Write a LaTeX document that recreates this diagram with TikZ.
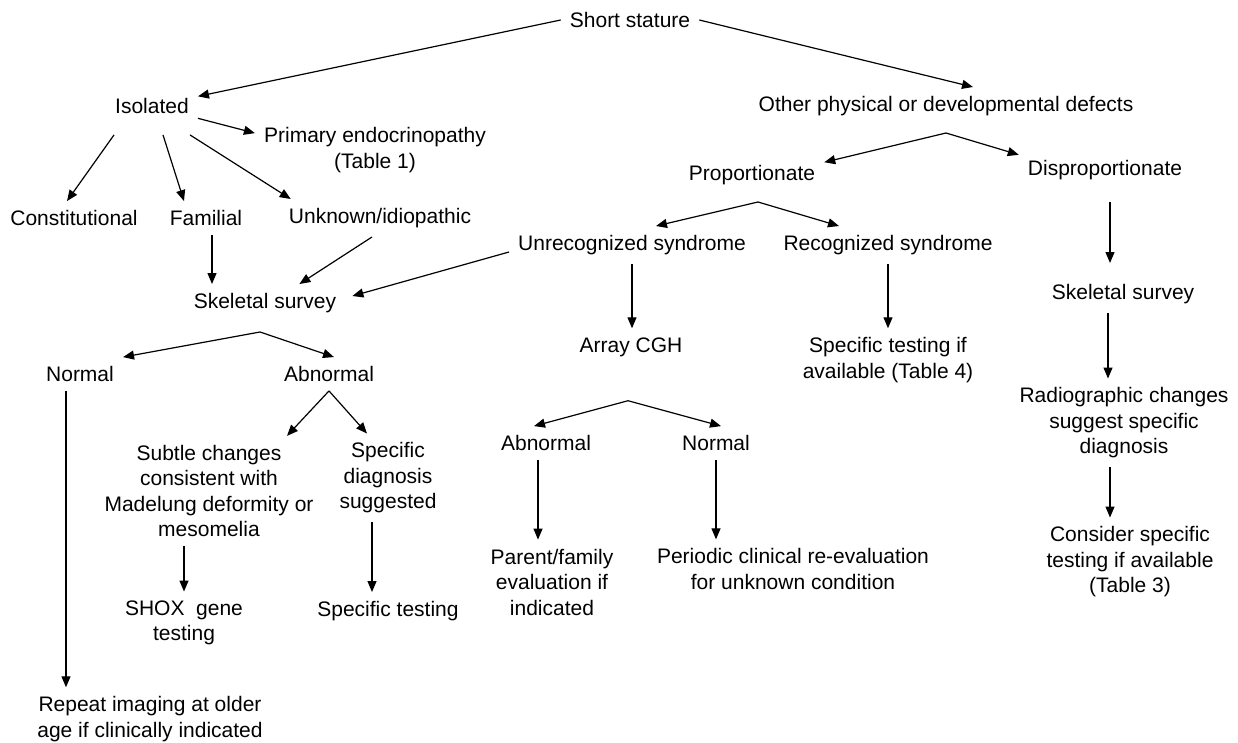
\documentclass[tikz,border=0pt]{standalone}
\usepackage{fontspec}
\setmainfont{Liberation Sans}
\usepackage{tikz}
\usetikzlibrary{arrows.meta}

\begin{document}
\begin{tikzpicture}[x=1pt,y=-1pt,
	box/.style={align=center, inner sep=9pt, font=\fontsize{21}{25.5}\selectfont},
	arr/.style={draw, line width=1.2pt, -{Triangle[length=11pt,width=9pt]}}]

	\useasboundingbox (0,0) rectangle (1238,742);

	% nodes
	\node[box] (short) at (630,20) {Short stature};
	\node[box] (iso) at (152,106) {Isolated};
	\node[box] (prim) at (375,150) {Primary endocrinopathy\\(Table 1)};
	\node[box] (cons) at (74,218) {Constitutional};
	\node[box] (fam) at (206,218) {Familial};
	\node[box] (unk) at (380,218) {Unknown/idiopathic};
	\node[box] (skel) at (265,303) {Skeletal survey};
	\node[box] (other) at (946,106) {Other physical or developmental defects};
	\node[box] (prop) at (752,175) {Proportionate};
	\node[box] (disp) at (1105,170) {Disproportionate};
	\node[box] (unrec) at (632,245) {Unrecognized syndrome};
	\node[box] (rec) at (888,245) {Recognized syndrome};
	\node[box] (skelr) at (1123,294) {Skeletal survey};
	\node[box] (acgh) at (631,347) {Array CGH};
	\node[box] (spec4) at (888,360) {Specific testing if\\available (Table 4)};
	\node[box] (radio) at (1124,423) {Radiographic changes\\suggest specific\\diagnosis};
	\node[box] (cons3) at (1130,562) {Consider specific\\testing if available\\(Table 3)};
	\node[box] (norm) at (80,374) {Normal};
	\node[box] (abn) at (329,374) {Abnormal};
	\node[box] (subtle) at (209,491) {Subtle changes\\consistent with\\Madelung deformity or\\mesomelia};
	\node[box] (specd) at (388,478) {Specific\\diagnosis\\suggested};
	\node[box] (shox) at (184,623) {SHOX~ gene\\testing};
	\node[box] (spect) at (388,611) {Specific testing};
	\node[box] (repeat) at (150,719) {Repeat imaging at older\\age if clinically indicated};
	\node[box] (abnm) at (546,443) {Abnormal};
	\node[box] (normm) at (716,443) {Normal};
	\node[box] (parent) at (552,582) {Parent/family\\evaluation if\\indicated};
	\node[box] (periodic) at (793,569) {Periodic clinical re-evaluation\\for unknown condition};

	% left branch
	\draw[arr] (short.west) -- (iso);
	\draw[arr] (iso.-15) -- (prim.172);
	\draw[arr] ([xshift=8pt,yshift=-12pt]iso.south west) -- ([xshift=-7pt]cons.north);
	\draw[arr] ([xshift=11pt,yshift=-12pt]iso.south) -- ([xshift=-22pt]fam.north);
	\draw[arr] ([xshift=-8pt,yshift=-12pt]iso.south east) -- ([xshift=11pt]unk.north west);
	\draw[arr] ([xshift=6pt]fam.south) -- ([xshift=6pt]fam.south |- skel.north);
	\draw[arr] ([xshift=-8pt]unk.south) -- ([xshift=-46pt]skel.north east);
	\draw[arr] ([yshift=-7pt]unrec.west) -- ([xshift=7pt,yshift=7pt]skel.east);

	\coordinate (fk3) at ([xshift=-5pt,yshift=-10pt]skel.south);
	\draw[arr] (fk3) -- (norm.north east);
	\draw[arr] (fk3) -- ([xshift=5pt]abn.north);
	\draw[arr] ([xshift=-14pt]norm.south) -- ([xshift=-14pt]norm.south |- repeat.north);
	\draw[arr] (abn.south) -- ([xshift=78pt]subtle.north);
	\draw[arr] (abn.south) -- ([xshift=-21pt]specd.north);
	\draw[arr] (shox.north |- subtle.south) -- (shox.north);
	\draw[arr] ([xshift=-16pt]specd.south) -- ([xshift=-16pt]specd.south |- spect.north);

	% right branch
	\draw[arr] (short.east) -- ([xshift=27pt]other.north);
	\coordinate (fk1) at ([yshift=-8pt]other.south);
	\draw[arr] (fk1) -- (prop.10);
	\draw[arr] (fk1) -- (disp.170);
	\coordinate (fk2) at ([xshift=6pt,yshift=-8pt]prop.south);
	\draw[arr] (fk2) -- ([xshift=24pt]unrec.north);
	\draw[arr] (fk2) -- ([xshift=-49pt]rec.north);
	\draw[arr] (unrec.south) -- (unrec.south |- acgh.north);
	\draw[arr] (rec.south) -- (spec4.north);

	\coordinate (fk4) at ([xshift=-3pt,yshift=-35pt]acgh.south);
	\draw[arr] (fk4) -- ([xshift=-12pt]abnm.north);
	\draw[arr] (fk4) -- ([xshift=5pt]normm.north);
	\draw[arr] ([xshift=-8pt]abnm.south) -- ([xshift=-8pt]abnm.south |- parent.north);
	\draw[arr] (normm.south) -- (normm.south |- periodic.north);

	\draw[arr, shorten <=13pt, shorten >=12pt] ([xshift=5pt]disp.south) -- ([xshift=5pt]disp.south |- skelr.north);
	\draw[arr] ([xshift=-15pt]skelr.south) -- ([xshift=-15pt]skelr.south |- radio.north);
	\draw[arr] ([xshift=-14pt]radio.south) -- ([xshift=-14pt]radio.south |- cons3.north);

\end{tikzpicture}
\end{document}
